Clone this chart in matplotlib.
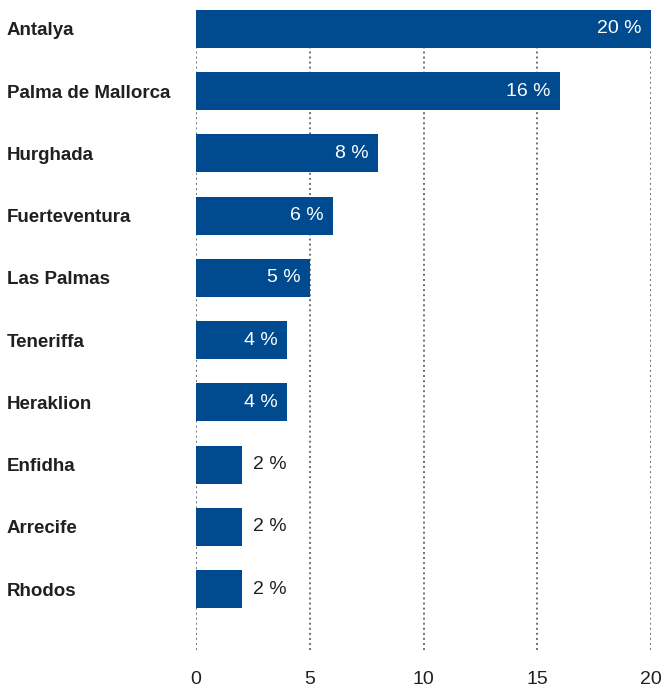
import matplotlib.pyplot as plt

cities = ['Antalya', 'Palma de Mallorca', 'Hurghada', 'Fuerteventura', 'Las Palmas',
          'Teneriffa', 'Heraklion', 'Enfidha', 'Arrecife', 'Rhodos']
shares = [20, 16, 8, 6, 5, 4, 4, 2, 2, 2]
xticks = [0, 5, 10, 15, 20]

bar_color = '#004a8f'
grid_color = '#68717a'
text_color = '#231f20'

fig = plt.figure(figsize=(6.64, 6.87), dpi=100)
ax = fig.add_axes([196 / 664, 37 / 687, 455 / 664, 641 / 687])

ypos = list(range(len(cities)))
ax.barh(ypos, shares, height=0.61, color=bar_color, zorder=2)

for y, v in zip(ypos, shares):
    if v >= 4:
        ax.annotate(f'{v} %', (v, y), xytext=(-6.5, 0), textcoords='offset points',
                    ha='right', va='center', color='white', fontsize=14,
                    family='Liberation Sans', zorder=3)
    else:
        ax.annotate(f'{v} %', (v, y), xytext=(8, 0), textcoords='offset points',
                    ha='left', va='center', color=text_color, fontsize=14,
                    family='Liberation Sans', zorder=3)

ax.set_xlim(0, 20)
ax.set_ylim(9.98, -0.32)
ax.set_xticks(xticks)
ax.set_xticklabels([str(t) for t in xticks], fontsize=14, family='Liberation Sans', color=text_color)
ax.set_yticks(ypos)
ax.set_yticklabels(cities, fontsize=13.5, family='Liberation Sans', fontweight='bold', color=text_color)
for lbl in ax.get_yticklabels():
    lbl.set_ha('left')
ax.tick_params(axis='y', length=0, pad=189 * 72 / 100)
ax.tick_params(axis='x', length=0, pad=15)

ax.xaxis.grid(True, linestyle=(0, (1, 1.6)), color=grid_color, linewidth=1.4, zorder=1)
ax.set_axisbelow(True)
for s in ax.spines.values():
    s.set_visible(False)

fig.savefig('out.png', dpi=100)
